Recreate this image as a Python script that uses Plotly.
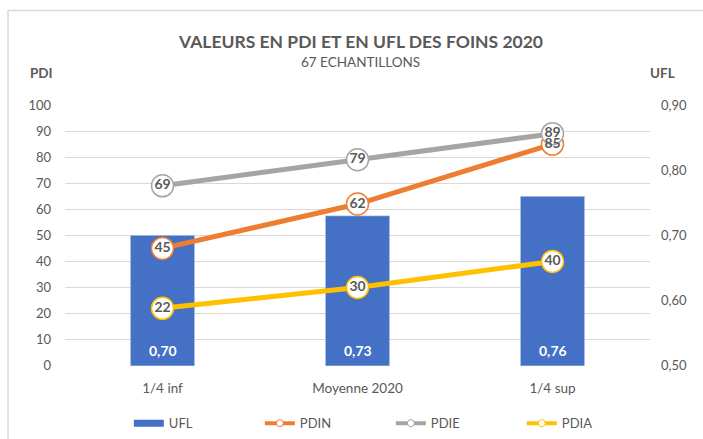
import plotly.graph_objects as go

# data
categories = ["1/4 inf", "Moyenne 2020", "1/4 sup"]
ufl = [0.70, 0.73, 0.76]
pdin = [45, 62, 85]
pdie = [69, 79, 89]
pdia = [22, 30, 40]

FONT = "Lato, Open Sans, sans-serif"
GREY_TXT = "#595959"
BLUE = "#4470c6"
ORANGE = "#ed7d31"
GREY = "#a5a5a5"
YELLOW = "#ffc000"

series = [("PDIN", pdin, ORANGE), ("PDIE", pdie, GREY), ("PDIA", pdia, YELLOW)]

fig = go.Figure()

# bars on the primary axis (right side, UFL) so the lines stay on top
fig.add_trace(go.Bar(x=categories, y=ufl, name="UFL", marker_color=BLUE, width=0.33,
                     showlegend=False, yaxis="y"))

# lines + markers
for name, vals, col in series:
    fig.add_trace(go.Scatter(
        x=categories, y=vals, name=name, mode="lines+markers",
        line=dict(color=col, width=5),
        marker=dict(size=22, color="white", line=dict(color=col, width=1.5)),
        showlegend=False, yaxis="y2"))

# data labels drawn above every marker
for name, vals, col in series:
    fig.add_trace(go.Scatter(
        x=categories, y=vals, mode="text", text=[str(v) for v in vals],
        textposition="middle center",
        textfont=dict(color=GREY_TXT, size=14, family=FONT, weight="bold"),
        showlegend=False, hoverinfo="skip", yaxis="y2"))

# legend entries
fig.add_trace(go.Scatter(x=[None], y=[None], name="UFL", mode="lines",
                         line=dict(color=BLUE, width=7), yaxis="y2"))
for name, vals, col in series:
    fig.add_trace(go.Scatter(x=[None], y=[None], name=name, mode="lines+markers",
                             line=dict(color=col, width=4),
                             marker=dict(size=7, color="white", line=dict(color=col, width=1)),
                             yaxis="y2"))

# bar value labels at the bottom of each bar
annotations = [
    dict(x=c, y=0.5, xref="x", yref="y", yanchor="bottom", yshift=5, showarrow=False,
         text="<b>" + f"{v:.2f}".replace(".", ",") + "</b>",
         font=dict(color="white", size=14, family=FONT))
    for c, v in zip(categories, ufl)
]
annotations += [
    dict(text="<b>VALEURS EN PDI ET EN UFL DES FOINS 2020</b>", x=0.505, y=1.245,
         xref="paper", yref="paper", xanchor="center", yanchor="middle", showarrow=False,
         font=dict(size=17.5, color=GREY_TXT)),
    dict(text="67 ECHANTILLONS", x=0.505, y=1.164, xref="paper", yref="paper",
         xanchor="center", yanchor="middle", showarrow=False,
         font=dict(size=13.5, color=GREY_TXT)),
    dict(text="<b>PDI</b>", x=-0.041, y=1.122, xref="paper", yref="paper",
         xanchor="center", yanchor="middle", showarrow=False,
         font=dict(size=13.5, color=GREY_TXT)),
    dict(text="<b>UFL</b>", x=1.022, y=1.122, xref="paper", yref="paper",
         xanchor="center", yanchor="middle", showarrow=False,
         font=dict(size=13.5, color=GREY_TXT)),
]

fig.update_layout(
    width=703, height=439,
    margin=dict(l=65, r=53, t=105, b=72),
    paper_bgcolor="white", plot_bgcolor="white",
    separators=", ",
    font=dict(family=FONT, size=13, color=GREY_TXT),
    xaxis=dict(showgrid=False, ticks="", showline=False, ticklabelstandoff=13,
               tickfont=dict(size=13.5, color=GREY_TXT)),
    yaxis=dict(side="right", range=[0.5, 0.9], dtick=0.1, tickformat=".2f",
               showgrid=False, zeroline=False, ticklabelstandoff=10,
               tickfont=dict(size=13, color=GREY_TXT)),
    yaxis2=dict(side="left", overlaying="y", range=[0, 100], dtick=10,
                showgrid=True, gridcolor="#d9d9d9", gridwidth=1, zeroline=False,
                ticklabelstandoff=13, tickfont=dict(size=13, color=GREY_TXT)),
    legend=dict(orientation="h", x=0.557, xanchor="center", yref="container",
                y=0.036, yanchor="middle", entrywidth=86, itemwidth=30,
                font=dict(size=13, color=GREY_TXT)),
    annotations=annotations,
    shapes=[dict(type="rect", xref="paper", yref="paper", x0=-0.0974, x1=1.2,
                 y0=-0.4, y1=1.3626, line=dict(color="#d9d9d9", width=1.5))],
)

fig.write_html("out.html", config={"displayModeBar": False},
               post_script="document.body.style.margin='0';")
